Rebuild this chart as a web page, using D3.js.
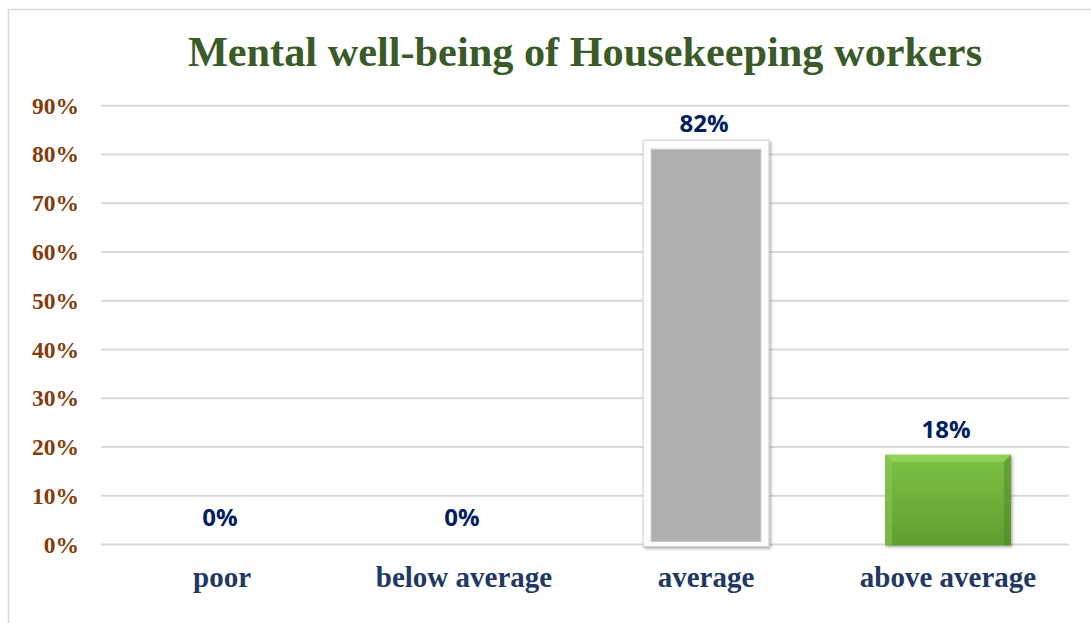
<!DOCTYPE html>
<html><head><meta charset="utf-8">
<script src="https://cdn.jsdelivr.net/npm/d3@7"></script>
<style>html,body{margin:0;padding:0;background:#fff;}svg{display:block;}</style>
</head><body>
<script>
const title = "Mental well-being of Housekeeping workers";
const categories = ["poor", "below average", "average", "above average"];
const values = [0, 0, 82, 18];
const labels = ["0%", "0%", "82%", "18%"];
const yTicks = [0, 10, 20, 30, 40, 50, 60, 70, 80, 90];

const W = 1091, H = 623;
const svg = d3.select("body").append("svg").attr("width", W).attr("height", H);
const defs = svg.append("defs");
const gg = defs.append("linearGradient").attr("id", "gGreen").attr("x1", 0).attr("y1", 0).attr("x2", 0).attr("y2", 1);
gg.append("stop").attr("offset", "0%").attr("stop-color", "#7cc344");
gg.append("stop").attr("offset", "100%").attr("stop-color", "#5e9e30");
const sh = defs.append("filter").attr("id", "shadow").attr("x", "-10%").attr("y", "-10%").attr("width", "130%").attr("height", "130%");
sh.append("feDropShadow").attr("dx", 1.5).attr("dy", 1.5).attr("stdDeviation", 1.5).attr("flood-color", "#000").attr("flood-opacity", 0.35);

// chart frame
svg.append("rect").attr("x", 8.5).attr("y", 9.5).attr("width", 1200).attr("height", 800)
  .attr("fill", "none").attr("stroke", "#d9d9d9").attr("stroke-width", 1.5);

const x = d3.scaleBand().domain(categories).range([101, 1069]).paddingInner(0.48).paddingOuter(0.24);
const y = d3.scaleLinear().domain([0, 90]).range([544.5, 105.7]);

// gridlines
svg.append("g").selectAll("line").data(yTicks).join("line")
  .attr("x1", 101).attr("x2", 1069)
  .attr("y1", d => y(d)).attr("y2", d => y(d))
  .attr("stroke", "#d9d9d9").attr("stroke-width", 2);

// y axis labels
const yAxis = d3.axisLeft(y).tickValues(yTicks).tickFormat(d => d + "%").tickSize(0).tickPadding(0);
const ya = svg.append("g").attr("transform", "translate(79,0)").call(yAxis);
ya.select(".domain").remove();
ya.selectAll("text").attr("font-family", "'Liberation Serif', 'Times New Roman', serif")
  .attr("font-weight", "bold").attr("font-size", 23.5).attr("fill", "#843c0c");

// x axis labels
const xAxis = d3.axisBottom(x).tickSize(0).tickPadding(0);
const xa = svg.append("g").attr("transform", "translate(0,566)").call(xAxis);
xa.select(".domain").remove();
xa.selectAll("text").attr("font-family", "'Liberation Serif', 'Times New Roman', serif")
  .attr("font-weight", "bold").attr("font-size", 29).attr("fill", "#1f3864");

// bars
const bars = svg.append("g");
values.forEach((v, i) => {
  if (v <= 0) return;
  const c = categories[i];
  const bx = x(c), bw = x.bandwidth(), top = y(v), bot = y(0);
  if (i === 2) {
    // framed grey bar
    bars.append("rect").attr("x", bx).attr("y", top - 4.5).attr("width", bw).attr("height", bot - top + 6.5)
      .attr("fill", "#fdfdfd").attr("stroke", "#d0d0d0").attr("stroke-width", 1).attr("filter", "url(#shadow)");
    bars.append("rect").attr("x", bx + 8).attr("y", top + 4.5).attr("width", bw - 16).attr("height", bot - top - 7.5)
      .attr("fill", "#afafaf").attr("stroke", "#c8c8c8").attr("stroke-width", 1);
  } else {
    bars.append("rect").attr("x", bx).attr("y", top - 2).attr("width", bw).attr("height", bot - top + 3)
      .attr("fill", "url(#gGreen)").attr("filter", "url(#shadow)");
    // bevel highlight
    const b = 7;
    bars.append("path")
      .attr("d", `M${bx},${top - 2}L${bx + bw},${top - 2}L${bx + bw - b},${top - 2 + b}L${bx + b},${top - 2 + b}Z`)
      .attr("fill", "#9ad760").attr("opacity", 0.7);
    bars.append("path")
      .attr("d", `M${bx},${top - 2}L${bx + b},${top - 2 + b}L${bx + b},${bot + 1}L${bx},${bot + 1}Z`)
      .attr("fill", "#8dcc55").attr("opacity", 0.5);
    bars.append("path")
      .attr("d", `M${bx + bw},${top - 2}L${bx + bw - b},${top - 2 + b}L${bx + bw - b},${bot + 1}L${bx + bw},${bot + 1}Z`)
      .attr("fill", "#4a8224").attr("opacity", 0.45);
  }
});

// data labels
svg.append("g").selectAll("text").data(values).join("text")
  .attr("x", (d, i) => x(categories[i]) + x.bandwidth() / 2 - 2)
  .attr("y", d => Math.max(y(d) - 19, y(90) + 26))
  .attr("text-anchor", "middle")
  .attr("font-family", "'Open Sans', 'Noto Sans', sans-serif")
  .attr("font-weight", "bold").attr("font-size", 24).attr("fill", "#002060")
  .text((d, i) => labels[i]);

// title
svg.append("text").attr("x", 585).attr("y", 66).attr("text-anchor", "middle")
  .attr("font-family", "'Liberation Serif', 'Times New Roman', serif")
  .attr("font-weight", "bold").attr("font-size", 42.3).attr("fill", "#3a5a28")
  .text(title);
</script>
</body></html>
